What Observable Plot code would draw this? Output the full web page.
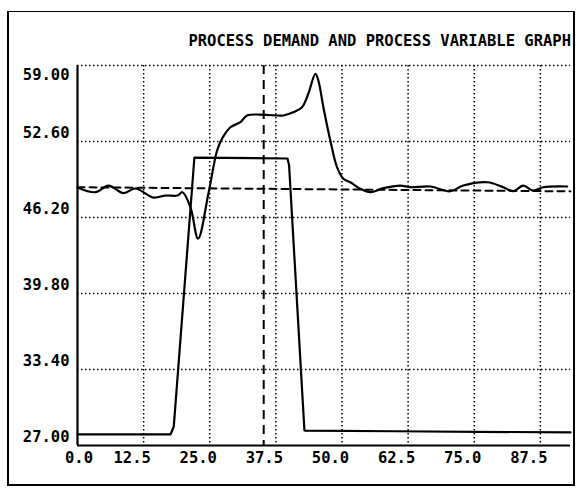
<!DOCTYPE html>
<html>
<head>
<meta charset="utf-8">
<script src="https://cdn.jsdelivr.net/npm/d3@7"></script>
<script src="https://cdn.jsdelivr.net/npm/@observablehq/plot@0.6"></script>
<style>
  body { margin: 0; background: #fff; }
  #wrap { position: relative; width: 577px; height: 488px; overflow: hidden; }
  #frame { position: absolute; left: 7px; top: 11px; width: 564px; height: 472px; border: 2px solid #000; border-top-width: 1.5px; }
  #title { position: absolute; right: 6px; top: 32px; font-family: "DejaVu Sans Mono", monospace; font-weight: bold; font-size: 15.5px; color: #000; white-space: nowrap; }
  #chart { position: absolute; left: 0; top: 0; }
</style>
</head>
<body>
<div id="wrap">
  <div id="frame"></div>
  <div id="chart"></div>
  <div id="title">PROCESS DEMAND AND PROCESS VARIABLE GRAPH</div>
</div>
<script>
// Tick values
const xTicks = [0, 12.5, 25, 37.5, 50, 62.5, 75, 87.5];
const yTicks = [27, 33.4, 39.8, 46.2, 52.6, 59];

// Process variable (solid wavy line)
const pvX = [0, 3.4, 5.86, 8.69, 10.96, 14.36, 16.63, 18.89, 19.84, 21.35, 22.8, 24.75, 26.39, 27.34, 28.91, 30.8, 32.06, 35.52, 38.92, 40.81, 42.45, 43.64, 44.97, 45.53, 46.48, 47.8, 49.06, 50.26, 51.58, 53.47, 55.36, 57.81, 61.02, 62.91, 66.69, 70.47, 72.93, 77.46, 80.48, 82.37, 84.26, 86.15, 88.04, 92.57];
const pvY = [48.73, 48.33, 48.89, 48.25, 48.64, 47.88, 48.05, 48.05, 48.33, 47.07, 44.41, 48.22, 51.84, 52.85, 53.8, 54.23, 54.79, 54.85, 54.79, 55.07, 55.49, 56.64, 58.3, 57.74, 55.49, 52.68, 50.44, 49.46, 49.17, 48.62, 48.33, 48.67, 48.89, 48.75, 48.81, 48.41, 48.89, 49.17, 48.75, 48.41, 48.89, 48.47, 48.75, 48.81];

// Process demand (step)
const demandX = [0, 17.6, 18.2, 22.1, 39.7, 40.0, 42.9, 60, 93.2];
const demandY = [27.93, 27.93, 28.6, 51.25, 51.17, 50.6, 28.26, 28.2, 28.1];

// Setpoint (dashed horizontal)
const setpointX = [0, 93.2];
const setpointY = [48.75, 48.4];

// Vertical dashed marker
const markerX = [35.2];

const pv = pvX.map((x, i) => ({x, y: pvY[i]}));
const demand = demandX.map((x, i) => ({x, y: demandY[i]}));
const setpoint = setpointX.map((x, i) => ({x, y: setpointY[i]}));

const fmtY = d => d.toFixed(2);
const fmtX = d => d.toFixed(1);

const chart = Plot.plot({
  width: 577,
  height: 488,
  marginLeft: 77,
  marginRight: 7,
  marginTop: 65,
  marginBottom: 43,
  x: {domain: [0, 93.2]},
  y: {domain: [27, 59]},
  style: {
    fontFamily: "DejaVu Sans Mono, monospace",
    fontWeight: "bold",
    fontSize: "15.5px",
    color: "#000",
    background: "transparent"
  },
  marks: [
    Plot.gridX(xTicks.slice(1), {stroke: "#000", strokeOpacity: 1, strokeWidth: 1.5, strokeDasharray: "1.5,2.5"}),
    Plot.gridY(yTicks.slice(1), {stroke: "#000", strokeOpacity: 1, strokeWidth: 1.5, strokeDasharray: "1.5,2.5"}),
    Plot.ruleX([0], {strokeWidth: 2.2}),
    Plot.ruleY([27], {strokeWidth: 2.2}),
    Plot.ruleX(markerX, {strokeWidth: 2, strokeDasharray: "9,6"}),
    Plot.line(setpoint, {x: "x", y: "y", strokeWidth: 2, strokeDasharray: "7,5"}),
    Plot.line(demand, {x: "x", y: "y", strokeWidth: 2.2}),
    Plot.line(pv, {x: "x", y: "y", strokeWidth: 2.2, curve: "catmull-rom"}),
    Plot.axisY(yTicks.filter(v => v !== 59), {tickSize: 0, tickPadding: 8, dy: -8.5, tickFormat: fmtY, label: null}),
    Plot.axisY([59], {tickSize: 0, tickPadding: 8, dy: 10, tickFormat: fmtY, label: null}),
    Plot.axisX(xTicks.slice(1), {tickSize: 0, tickPadding: 6, dx: -11.5, tickFormat: fmtX, label: null}),
    Plot.axisX([0], {tickSize: 0, tickPadding: 6, dx: 1.5, tickFormat: fmtX, label: null})
  ]
});
document.getElementById("chart").appendChild(chart);
</script>
</body>
</html>
